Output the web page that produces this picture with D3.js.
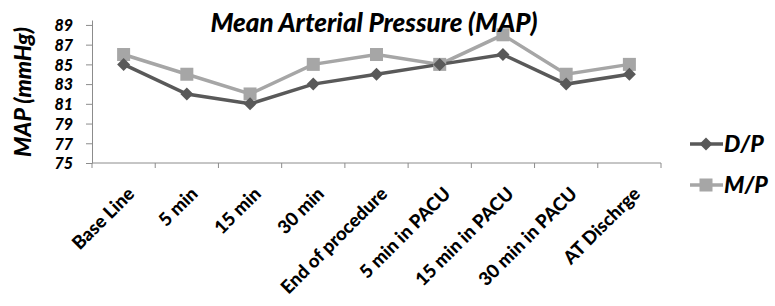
<!DOCTYPE html>
<html>
<head>
<meta charset="utf-8">
<script src="https://cdn.jsdelivr.net/npm/d3@7"></script>
<style>
  body { margin: 0; background: #fff; }
  text { font-family: Lato, "Open Sans", sans-serif; fill: #000; }
</style>
</head>
<body>
<div id="vis-holder"></div>
<script>
// Data
const categories = ["Base Line", "5 min", "15 min", "30 min", "End of procedure",
                    "5 min in PACU", "15 min in PACU", "30 min in PACU", "AT Dischrge"];
const dpValues = [85, 82, 81, 83, 84, 85, 86, 83, 84];
const mpValues = [86, 84, 82, 85, 86, 85, 88, 84, 85];
const yTicks = [75, 77, 79, 81, 83, 85, 87, 89];
const seriesNames = ["D/P", "M/P"];

const width = 775;
const height = 306;
const margin = { top: 20, right: 114, bottom: 143, left: 92 };

const svg = d3.select("#vis-holder")
  .append("svg")
  .attr("width", width)
  .attr("height", height);

// Scales
const x = d3.scaleBand()
  .domain(categories)
  .range([margin.left, width - margin.right]);

const y = d3.scaleLinear()
  .domain([75, 89.5])
  .range([height - margin.bottom, margin.top]);

const axisColor = "#8c8c8c";

// Y axis
svg.append("g")
  .attr("transform", `translate(${margin.left},0)`)
  .call(d3.axisLeft(y).tickValues(yTicks).tickSize(6).tickSizeOuter(0))
  .call(g => g.select(".domain").attr("stroke", axisColor))
  .call(g => g.selectAll(".tick line").attr("stroke", axisColor))
  .call(g => g.selectAll(".tick text")
    .attr("x", -19)
    .attr("dy", "0.36em")
    .attr("font-size", "16px")
    .attr("font-weight", "900")
    .attr("font-style", "italic")
    .attr("font-family", "Lato, sans-serif")
    .attr("fill", "#000"));

// X axis, ticks at band boundaries
const xAxisG = svg.append("g")
  .attr("transform", `translate(0,${height - margin.bottom})`);

xAxisG.append("line")
  .attr("x1", margin.left).attr("x2", width - margin.right)
  .attr("stroke", axisColor);

const boundaries = categories.map(c => x(c)).concat([x.range()[1]]);
xAxisG.selectAll(".xtick")
  .data(boundaries)
  .enter()
  .append("line")
  .attr("class", "xtick")
  .attr("x1", d => d).attr("x2", d => d)
  .attr("y1", 0).attr("y2", 5)
  .attr("stroke", axisColor);

xAxisG.selectAll(".xlabel")
  .data(categories)
  .enter()
  .append("text")
  .attr("class", "xlabel")
  .attr("transform", d => `translate(${x(d) + x.bandwidth() / 2 + 12},${32}) rotate(-45)`)
  .attr("text-anchor", "end")
  .attr("font-size", "18.5px")
  .attr("font-weight", "900")
  .text(d => d);

// Lines
const series = [
  { name: seriesNames[0], values: dpValues, color: "#595959", marker: "diamond" },
  { name: seriesNames[1], values: mpValues, color: "#a6a6a6", marker: "square" }
];

const line = d3.line()
  .x((d, i) => x(categories[i]) + x.bandwidth() / 2)
  .y(d => y(d));

function drawMarker(g, type, color) {
  if (type === "diamond") {
    g.append("path")
      .attr("d", "M0,-6.5L6.5,0L0,6.5L-6.5,0Z")
      .attr("fill", color);
  } else {
    g.append("rect")
      .attr("x", -6.5).attr("y", -6.5)
      .attr("width", 13).attr("height", 13)
      .attr("fill", color);
  }
}

// draw M/P first, then D/P over it
[series[1], series[0]].forEach(s => {
  svg.append("path")
    .datum(s.values)
    .attr("fill", "none")
    .attr("stroke", s.color)
    .attr("stroke-width", 3.5)
    .attr("d", line);
});

[series[1], series[0]].forEach(s => {
  s.values.forEach((v, i) => {
    const g = svg.append("g")
      .attr("transform", `translate(${x(categories[i]) + x.bandwidth() / 2},${y(v)})`);
    drawMarker(g, s.marker, s.color);
  });
});

// Title
svg.append("text")
  .attr("x", 374)
  .attr("y", 32)
  .attr("text-anchor", "middle")
  .attr("font-size", "26px")
  .attr("font-weight", "900")
  .attr("font-style", "italic")
  .text("Mean Arterial Pressure (MAP)");

// Y axis title
svg.append("text")
  .attr("transform", "translate(31,92) rotate(-90)")
  .attr("text-anchor", "middle")
  .attr("font-size", "23px")
  .attr("font-weight", "900")
  .attr("font-style", "italic")
  .text("MAP (mmHg)");

// Legend
const legend = svg.selectAll(".legend")
  .data(series)
  .enter()
  .append("g")
  .attr("class", "legend")
  .attr("transform", (d, i) => `translate(690,${144 + i * 41})`);

legend.append("line")
  .attr("x1", 0).attr("x2", 33)
  .attr("stroke", d => d.color)
  .attr("stroke-width", 3.5);

legend.each(function(d) {
  const g = d3.select(this).append("g").attr("transform", "translate(16,0)");
  drawMarker(g, d.marker, d.color);
});

legend.append("text")
  .attr("x", 34)
  .attr("y", 8)
  .attr("font-size", "23px")
  .attr("font-weight", "900")
  .attr("font-style", "italic")
  .text(d => d.name);
</script>
</body>
</html>
